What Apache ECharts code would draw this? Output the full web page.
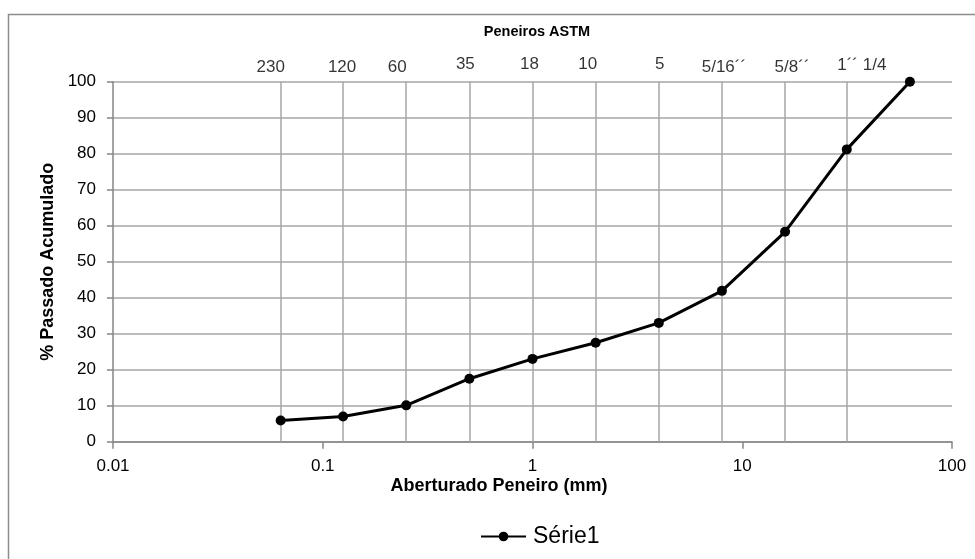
<!DOCTYPE html>
<html>
<head>
<meta charset="utf-8">
<script src="https://cdn.jsdelivr.net/npm/echarts@6/dist/echarts.min.js"></script>
<style>
html,body{margin:0;padding:0;background:#fff;}
#c{width:975px;height:559px;}
</style>
</head>
<body>
<div id="c"></div>
<script>
// Data
const seriesName = 'Série1';
const openings = [0.063, 0.125, 0.25, 0.5, 1, 2, 4, 8, 16, 31.5, 63];
const passing = [5.9, 7.0, 10.1, 17.5, 23.0, 27.5, 33.0, 41.9, 58.3, 81.2, 100];
const sieveOpenings = [0.063, 0.125, 0.25, 0.5, 1, 2, 4, 8, 16, 31.5];
const sieveLabels = ['230', '120', '60', '35', '18', '10', '5', '5/16´´', '5/8´´', '1´´ 1/4'];
const yRange = [0, 100];

// Style: small pixel nudges of the sieve labels, as placed in the original
const labelNudge = [[-10, 0], [-1, 0], [-9, 0], [-4, -3], [-3, -3], [-8, -3], [1, -3], [2, 0], [7, 0], [15, -2]];

const FONT = '"Liberation Sans", Arial, Helvetica, sans-serif';
const chart = echarts.init(document.getElementById('c'), null, {renderer: 'canvas'});

const option = {
  animation: false,
  backgroundColor: '#ffffff',
  textStyle: {fontFamily: FONT},
  grid: {left: 113, right: 23, top: 81.7, bottom: 117.3, containLabel: false},
  graphic: [
    {type: 'rect', shape: {x: 8.5, y: 14.5, width: 1000, height: 1000},
     style: {fill: 'none', stroke: '#8c8c8c', lineWidth: 1.5}, z: -10, silent: true},
    {type: 'text', x: 537, y: 32, style: {text: 'Peneiros ASTM', font: 'bold 14.5px ' + FONT,
     fill: '#000', textAlign: 'center', textVerticalAlign: 'middle'}},
    {type: 'text', x: 499, y: 486, style: {text: 'Aberturado Peneiro (mm)', font: 'bold 18px ' + FONT,
     fill: '#000', textAlign: 'center', textVerticalAlign: 'middle'}}
  ],
  legend: {
    data: [seriesName],
    left: 475, top: 520,
    itemWidth: 45, itemHeight: 12,
    itemGap: 4,
    textStyle: {fontSize: 23, color: '#000', fontFamily: FONT, padding: [0, 0, 0, 2]}
  },
  xAxis: {
    type: 'log', logBase: 10, min: 0.01, max: 100,
    axisLine: {show: true, onZero: false, lineStyle: {color: '#868686', width: 1.5}},
    axisTick: {show: true, inside: false, length: 7, lineStyle: {color: '#868686', width: 1.5}},
    minorTick: {show: false},
    splitLine: {show: false},
    axisLabel: {color: '#000', fontSize: 17, margin: 16, fontFamily: FONT,
      formatter: function (v) { return String(+v.toPrecision(6)); }}
  },
  yAxis: {
    type: 'value', min: yRange[0], max: yRange[1], interval: 10,
    name: '% Passado Acumulado', nameLocation: 'middle', nameGap: 54,
    nameTextStyle: {fontWeight: 'bold', fontSize: 18, color: '#000', fontFamily: FONT},
    axisLine: {show: true, lineStyle: {color: '#868686', width: 1.5}},
    axisTick: {show: true, length: 6, lineStyle: {color: '#868686', width: 1.5}},
    splitLine: {show: true, lineStyle: {color: '#a6a6a6', width: 1.5}},
    axisLabel: {color: '#000', fontSize: 17, margin: 17, fontFamily: FONT}
  },
  series: [
    {
      name: 'sieveGrid',
      type: 'lines',
      coordinateSystem: 'cartesian2d',
      silent: true,
      z: 1,
      lineStyle: {color: '#a6a6a6', width: 1.5, opacity: 1, curveness: 0},
      data: sieveOpenings.map(v => ({coords: [[v, yRange[0]], [v, yRange[1]]]}))
    },
    {
      name: seriesName,
      type: 'line',
      data: openings.map((x, i) => [x, passing[i]]),
      symbol: 'circle', symbolSize: 10,
      lineStyle: {color: '#000', width: 3},
      itemStyle: {color: '#000'},
      z: 5
    },
    {
      name: 'sieves',
      type: 'scatter',
      data: sieveOpenings.map((x, i) => ({
        value: [x, yRange[1]], name: sieveLabels[i],
        label: {offset: labelNudge[i]}
      })),
      symbolSize: 0,
      silent: true,
      label: {show: true, position: 'top', distance: 6, color: '#000', fontSize: 17, fontFamily: FONT,
        formatter: p => p.name}
    }
  ]
};
chart.setOption(option);
</script>
</body>
</html>
